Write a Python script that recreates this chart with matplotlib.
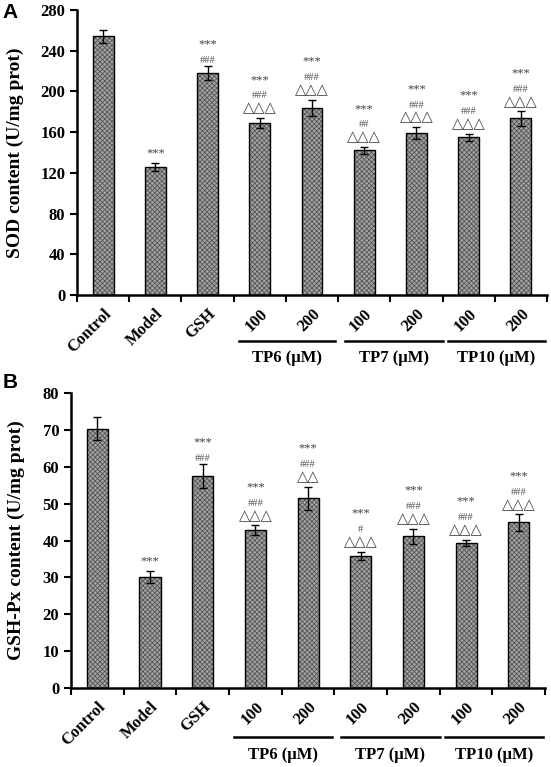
import numpy as np
import matplotlib
matplotlib.use('Agg')
import matplotlib.pyplot as plt
import matplotlib.transforms as mtransforms

# Dados
groups = ['Control', 'Model', 'GSH', '100', '200', '100', '200', '100', '200']
sod = [254, 126, 218, 169, 184, 142, 159, 155, 173.5]
sod_err = [6, 4, 6.5, 5, 8, 3.5, 6, 3.5, 7]
gpx = [70.3, 30.2, 57.5, 42.8, 51.5, 35.9, 41.1, 39.3, 44.9]
gpx_err = [3.1, 1.6, 3.2, 1.3, 3.1, 1.1, 2.1, 0.9, 2.2]
sod_marks = [[], ['***'], ['###', '***'], ['△△△', '###', '***'], ['△△△', '###', '***'],
             ['△△△', '##', '***'], ['△△△', '###', '***'], ['△△△', '###', '***'],
             ['△△△', '###', '***']]
gpx_marks = [[], ['***'], ['###', '***'], ['△△△', '###', '***'], ['△△', '###', '***'],
             ['△△△', '#', '***'], ['△△△', '###', '***'], ['△△△', '###', '***'],
             ['△△△', '###', '***']]
dose_groups = ['TP6 (μM)', 'TP7 (μM)', 'TP10 (μM)']
dose_spans = [(2.6, 4.45), (4.63, 6.5), (6.6, 8.47)]

plt.rcParams['hatch.linewidth'] = 0.6
serif = ['Liberation Serif', 'DejaVu Serif']
sym_font = ['Liberation Serif', 'DejaVu Sans']

fig = plt.figure(figsize=(5.51, 7.67), dpi=100)
ax1 = fig.add_axes([0.1397, 0.6154, 0.853, 0.3716])
ax2 = fig.add_axes([0.1289, 0.103, 0.8603, 0.3846])


def draw_panel(ax, vals, errs, marks, ymax, ystep, ylabel, label_x, line_y, text_y):
    x = np.arange(len(vals))
    ax.bar(x, vals, width=0.4, color='#a4a4a4', edgecolor='#555555', hatch='xxxxxxx', linewidth=0)
    ax.bar(x, vals, width=0.4, fill=False, edgecolor='black', linewidth=1)
    ax.errorbar(x, vals, yerr=errs, fmt='none', ecolor='black', elinewidth=1, capsize=3, capthick=1)

    # marcas de significancia, empilhadas acima da barra de erro
    for xi, v, e, m in zip(x, vals, errs, marks):
        off = 9
        for s in m:
            if '△' in s:
                ax.annotate(s, (xi, v + e), xytext=(0, off), textcoords='offset pixels',
                            ha='center', va='center', fontsize=10.5, color='#444444', family=sym_font)
                off += 16
            elif '#' in s:
                ax.annotate(s, (xi, v + e), xytext=(0, off - 3), textcoords='offset pixels',
                            ha='center', va='center', fontsize=7.5, color='#555555', family=serif)
                off += 13
            else:
                ax.annotate(s, (xi, v + e), xytext=(0, off), textcoords='offset pixels',
                            ha='center', va='center', fontsize=9, color='#444444', family=serif)

    ax.set_xlim(-0.5, len(vals) - 0.5)
    ax.set_ylim(0, ymax)
    ax.set_yticks(np.arange(0, ymax + 1, ystep))
    ax.set_xticks(x)
    ax.set_xticklabels(groups, rotation=45, ha='right', rotation_mode='anchor',
                       fontsize=12, fontweight='bold', family=serif)
    ax.set_xticks(np.arange(-0.5, len(vals), 1), minor=True)
    ax.tick_params(axis='x', which='major', length=0, pad=8)
    ax.tick_params(axis='x', which='minor', length=5, width=1.5, direction='out')
    ax.tick_params(axis='y', length=5, width=1.5, direction='out')
    for lab in ax.get_yticklabels():
        lab.set_fontsize(12)
        lab.set_fontweight('bold')
        lab.set_family(serif)
    for sp in ['top', 'right']:
        ax.spines[sp].set_visible(False)
    for sp in ['left', 'bottom']:
        ax.spines[sp].set_linewidth(1.8)

    ax.set_ylabel(ylabel, fontsize=14, fontweight='bold', family=serif)
    ax.yaxis.set_label_coords(label_x, 0.5)

    trans = mtransforms.blended_transform_factory(ax.transData, ax.transAxes)
    for name, (a, b) in zip(dose_groups, dose_spans):
        ax.plot([a, b], [line_y, line_y], color='black', lw=1.8, transform=trans, clip_on=False)
        ax.text((a + b) / 2, text_y, name, transform=trans, ha='center', va='center',
                fontsize=12, fontweight='bold', family=serif)


draw_panel(ax1, sod, sod_err, sod_marks, 280, 40, 'SOD content (U/mg prot)', -0.112, -0.161, -0.221)
draw_panel(ax2, gpx, gpx_err, gpx_marks, 80, 10, 'GSH-Px content (U/mg prot)', -0.098, -0.166, -0.227)

fig.text(0.005, 0.984, 'A', fontsize=15, fontweight='bold', family='Liberation Sans', va='center')
fig.text(0.005, 0.501, 'B', fontsize=15, fontweight='bold', family='Liberation Sans', va='center')

plt.savefig('out.png', dpi=100)
